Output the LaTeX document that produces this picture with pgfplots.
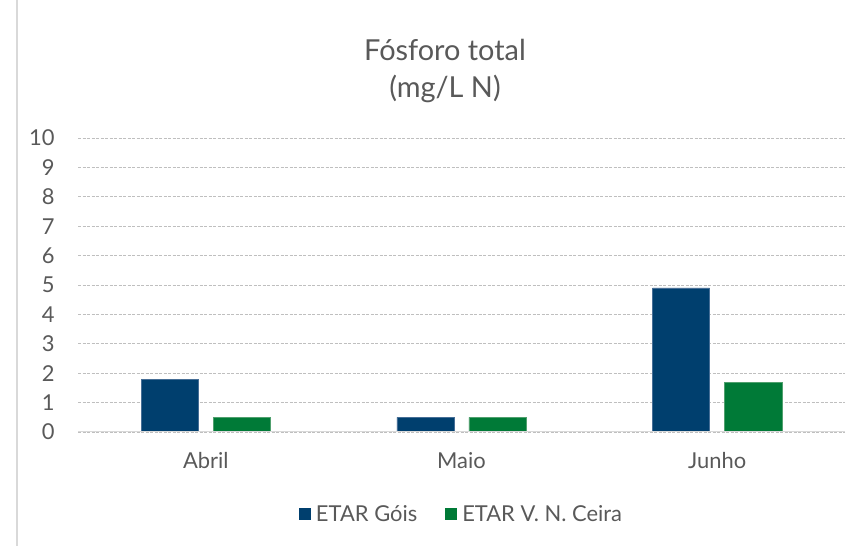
\documentclass[border=0pt]{standalone}
\usepackage{fontspec}
\setmainfont{Lato}
\usepackage{pgfplots}
\pgfplotsset{compat=1.18}
\definecolor{cblue}{HTML}{003F6E}
\definecolor{cgreen}{HTML}{007A37}
\definecolor{txt}{HTML}{595959}
\definecolor{lgray}{HTML}{D9D9D9}
\definecolor{ggray}{HTML}{BFBFBF}
\begin{document}
\begin{tikzpicture}[x=1bp,y=1bp]
\path[use as bounding box] (0,0) rectangle (852,546);
\draw[lgray, line width=1.5bp] (17,0) -- (17,546);
\node[align=center, text=txt, font=\fontsize{29}{38}\selectfont] at (445,475) {Fósforo total\\(mg/L N)};
\begin{axis}[
  at={(78bp,114bp)}, anchor=south west,
  scale only axis, width=767bp, height=294bp,
  xmin=-0.5, xmax=2.5, ymin=0, ymax=10,
  xtick={0,1,2}, xticklabels={Abril,Maio,Junho},
  ytick={0,1,...,10},
  axis line style={draw=none},
  major tick length=0pt,
  ymajorgrids,
  grid style={ggray, line width=0.9bp, dash pattern=on 3bp off 1.5bp},
  tick label style={text=txt, font=\fontsize{22}{26}\selectfont},
  yticklabel style={anchor=east, xshift=-20bp},
  xticklabel style={anchor=center, yshift=-29bp},
  /pgf/number format/assume math mode=true,
  ybar, bar width=0.2235,
  legend columns=2,
  legend style={at={(0.5,-0.28)}, anchor=center, draw=none, fill=none,
    font=\fontsize{22}{26}\selectfont, text=txt,
    /tikz/every even column/.append style={column sep=26bp}},
  legend image code/.code={\fill[#1, draw=none] (0bp,-6bp) rectangle (12bp,6bp); \path[draw=none, fill=none] (12bp,0) -- (15bp,0);},
]
\addplot[fill=cblue, draw={rgb,255:red,70;green,110;blue,150}, line width=0.6bp, bar shift=-0.141] coordinates {(0,1.8) (1,0.5) (2,4.9)};
\addplot[fill=cgreen, draw={rgb,255:red,80;green,160;blue,110}, line width=0.6bp, bar shift=0.141] coordinates {(0,0.5) (1,0.5) (2,1.7)};
\legend{ETAR Góis, ETAR V. N. Ceira}
\draw[lgray, line width=2bp] (axis cs:-0.5,0) -- (axis cs:2.5,0);
\end{axis}
\end{tikzpicture}
\end{document}
